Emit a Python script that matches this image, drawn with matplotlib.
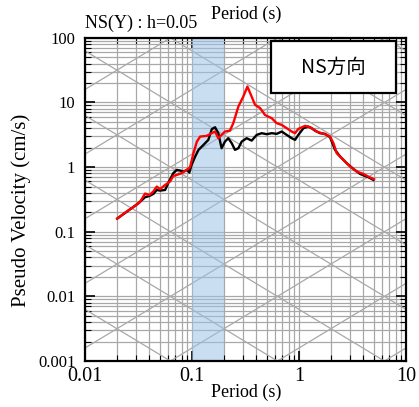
import numpy as np
import matplotlib

matplotlib.use("Agg")
import matplotlib.pyplot as plt
from matplotlib.patches import Rectangle

plt.rcParams["font.family"] = ["Liberation Serif", "DejaVu Serif"]

# periods (s) and pseudo velocity (cm/s)
black_T = [0.020, 0.0264, 0.0315, 0.0364, 0.040, 0.0435, 0.0468, 0.0502, 0.056,
           0.0601, 0.0668, 0.072, 0.0773, 0.083, 0.0904, 0.0944, 0.099, 0.107,
           0.115, 0.128, 0.142, 0.153, 0.164, 0.176, 0.183, 0.189, 0.203, 0.218,
           0.235, 0.252, 0.271, 0.291, 0.324, 0.361, 0.402, 0.448, 0.499, 0.556,
           0.618, 0.689, 0.767, 0.855, 0.918, 0.985, 1.10, 1.22, 1.31, 1.41,
           1.57, 1.75, 1.95, 2.17, 2.42, 2.79, 3.22, 3.72, 4.44, 4.96]
black_V = [0.16, 0.223, 0.276, 0.342, 0.358, 0.385, 0.443, 0.433, 0.443,
           0.575, 0.805, 0.906, 0.885, 0.853, 0.906, 0.823, 1.08, 1.46,
           1.85, 2.21, 2.64, 3.86, 4.14, 3.35, 2.48, 1.96, 2.48, 2.80,
           2.34, 1.85, 1.96, 2.48, 2.80, 2.57, 3.15, 3.35, 3.23, 3.35,
           3.27, 3.55, 3.15, 2.80, 2.64, 3.15, 4.0, 4.24, 4.0, 3.67,
           3.35, 3.27, 2.90, 1.85, 1.46, 1.15, 0.938, 0.785, 0.697, 0.634]

red_T = [0.020, 0.0245, 0.0293, 0.0327, 0.0364, 0.040, 0.0435, 0.0468, 0.0502,
         0.056, 0.0623, 0.0668, 0.072, 0.080, 0.089, 0.0958, 0.103, 0.111,
         0.119, 0.137, 0.153, 0.164, 0.176, 0.189, 0.203, 0.226, 0.243, 0.271,
         0.301, 0.329, 0.361, 0.388, 0.432, 0.481, 0.556, 0.618, 0.689, 0.767,
         0.855, 0.918, 0.985, 1.14, 1.27, 1.36, 1.46, 1.63, 1.81, 1.95, 2.10,
         2.25, 2.60, 3.0, 3.46, 3.99, 4.44, 5.03]
red_V = [0.16, 0.205, 0.25, 0.29, 0.39, 0.37, 0.42, 0.50, 0.455,
         0.53, 0.60, 0.73, 0.757, 0.805, 0.906, 1.0, 1.64, 2.48,
         2.97, 3.04, 3.35, 3.55, 2.80, 3.15, 3.55, 3.67, 4.79, 8.65,
         12.3, 17.6, 12.3, 9.2, 8.2, 6.4, 5.7, 4.79, 4.5, 4.0,
         3.55, 3.35, 3.9, 4.35, 4.14, 3.86, 3.55, 3.35, 3.15, 2.97, 2.34,
         1.64, 1.29, 1.02, 0.853, 0.785, 0.713, 0.65]

band = (0.1, 0.2)
disp_levels = [1e-6, 1e-5, 1e-4, 1e-3, 1e-2, 1e-1, 1, 10, 100]       # cm
acc_levels = [1e-3, 1e-2, 1e-1, 1, 10, 100, 1e3, 1e4, 1e5, 1e6]       # cm/s2

GRID = "#a8a8a8"

fig = plt.figure(figsize=(4.19, 4.07), dpi=100)
ax = fig.add_axes([0.203, 0.113, 0.766, 0.794])
ax.set_xscale("log")
ax.set_yscale("log")
ax.set_xlim(0.01, 10)
ax.set_ylim(0.001, 100)

ax.grid(True, which="both", color=GRID, linewidth=0.9, zorder=1)
ax.set_axisbelow(True)

# tripartite diagonals
Tg = np.logspace(-2, 1, 50)
for d in disp_levels:
    ax.plot(Tg, 2 * np.pi * d / Tg, color=GRID, lw=0.9, zorder=1.5)
for a in acc_levels:
    ax.plot(Tg, a * Tg / (2 * np.pi), color=GRID, lw=0.9, zorder=1.5)

ax.axvspan(*band, facecolor="#9dc3e6", alpha=0.55, lw=0, zorder=2)

ax.plot(black_T, black_V, color="black", lw=1.7, zorder=4)
ax.plot(red_T, red_V, color="#ff0000", lw=1.7, zorder=5)

ax.tick_params(which="both", direction="in", top=True, right=True)
ax.tick_params(which="major", length=7, width=1.2)
ax.tick_params(which="minor", length=4, width=0.8)
ax.tick_params(axis="x", labelsize=14.5, pad=4)
ax.tick_params(axis="y", labelsize=12, pad=7)
ax.set_xticks([0.01, 0.1, 1, 10], ["0.01", "0.1", "1", "10"])
ax.set_yticks([0.001, 0.01, 0.1, 1, 10, 100],
              ["0.001", "0.01", "0.1", "1", "10", "100"])
for s in ax.spines.values():
    s.set_linewidth(1.6)

fig.text(0.587, 0.037, "Period (s)", ha="center", va="center", fontsize=13)
fig.text(0.05, 0.482, "Pseudo Velocity (cm/s)", ha="center", va="center",
         rotation=90, fontsize=15)
fig.text(0.587, 0.965, "Period (s)", ha="center", va="center", fontsize=13)
fig.text(0.203, 0.943, "NS(Y) : h=0.05", ha="left", va="center", fontsize=13)

ax.add_patch(Rectangle((0.579, 0.83), 0.39, 0.161, transform=ax.transAxes,
                       facecolor="white", edgecolor="black", lw=1.6,
                       zorder=6))
ax.text(0.774, 0.91, "NS方向", transform=ax.transAxes, ha="center",
        va="center", fontsize=14, family=["Noto Sans CJK JP", "DejaVu Sans"],
        zorder=7)

fig.savefig("out.png", dpi=100, facecolor="white")
